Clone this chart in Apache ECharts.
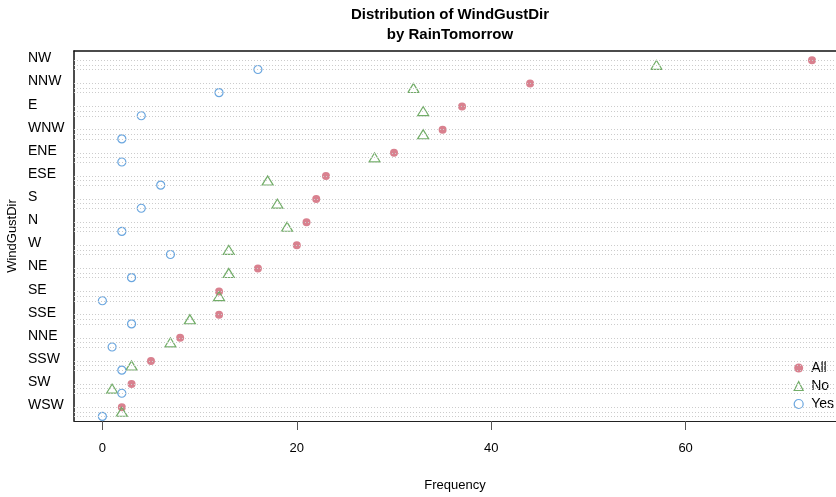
<!DOCTYPE html>
<html>
<head>
<meta charset="utf-8">
<script src="https://cdn.jsdelivr.net/npm/echarts@6/dist/echarts.min.js"></script>
<style>
html,body{margin:0;padding:0;background:#fff;}
#chart{width:836px;height:497px;}
</style>
</head>
<body>
<div id="chart"></div>
<script>
// Data
var groups = ['NW','NNW','E','WNW','ENE','ESE','S','N','W','NE','SE','SSE','NNE','SSW','SW','WSW'];
var allVals = [73,44,37,35,30,23,22,21,20,16,12,12,8,5,3,2];
var noVals  = [57,32,33,33,28,17,18,19,13,13,12,9,7,3,1,2];
var yesVals = [16,12,4,2,2,6,4,2,7,3,0,3,1,2,2,0];
var seriesNames = ['All','No','Yes'];
var xTicks = [0,20,40,60];

var n = groups.length;
// dotchart layout: each group takes 5 rows (label, All, No, Yes, gap)
function rowPos(i, offset){ return (n - 1 - i) * 5 + offset; }
var offsets = {All:3, No:2, Yes:1};
var labelOffset = 3.4;

function build(vals, name){
  return vals.map(function(v,i){ return [v, rowPos(i, offsets[name])]; });
}
var lineRows = [];
groups.forEach(function(g,i){
  seriesNames.forEach(function(s){ lineRows.push({yAxis: rowPos(i, offsets[s])}); });
});
var labelValues = groups.map(function(g,i){ return rowPos(i, labelOffset); });

var cAll = '#D9818F', cNo = '#72AD68', cYes = '#6AA6DF';
var font = 'Liberation Sans, Arial, Helvetica, sans-serif';

var chart = echarts.init(document.getElementById('chart'));
chart.setOption({
  animation: false,
  backgroundColor: '#fff',
  textStyle: {fontFamily: font},
  title: {
    text: 'Distribution of WindGustDir\nby RainTomorrow',
    left: 445, textAlign: 'center', top: 0,
    textStyle: {fontSize: 15, fontWeight: 'bold', color: '#000', lineHeight: 20, fontFamily: font}
  },
  legend: {
    orient: 'vertical', right: 2, top: 361, padding: 0,
    itemWidth: 9, itemHeight: 9, itemGap: 4,
    data: [
      {name:'All', icon:'circle', itemStyle:{color:cAll}},
      {name:'No', icon:'triangle', itemStyle:{color:'rgba(255,255,255,0)', borderColor:cNo, borderWidth:1.2}},
      {name:'Yes', icon:'circle', itemStyle:{color:'rgba(255,255,255,0)', borderColor:cYes, borderWidth:1.2}}
    ],
    textStyle: {fontSize: 14, color: '#000', fontFamily: font, lineHeight: 14, padding: [0,0,0,3]}
  },
  grid: {left: 74, right: 0, top: 51, bottom: 76, containLabel: false, outerBoundsMode: 'none'},
  xAxis: [{
    type: 'value', min: -2.92, max: 75.47,
    position: 'bottom',
    name: 'Frequency', nameLocation: 'middle', nameGap: 58, nameMoveOverlap: false,
    nameTextStyle: {fontSize: 13, color: '#000'},
    axisLine: {show: true, onZero: false, lineStyle: {color: '#222', width: 1}},
    axisTick: {show: true, length: 9, customValues: xTicks, lineStyle: {color: '#555'}},
    axisLabel: {show: true, customValues: xTicks, fontSize: 13, color: '#000', margin: 21},
    splitLine: {show: false}
  },{
    type: 'value', min: -2.92, max: 75.47, position: 'top',
    axisLine: {show: true, onZero: false, lineStyle: {color: '#111', width: 1.5}},
    axisTick: {show: false}, axisLabel: {show: false}, splitLine: {show: false}
  }],
  yAxis: {
    type: 'value', min: 0, max: 80,
    name: 'WindGustDir', nameLocation: 'middle', nameGap: 55, nameRotate: 90, nameMoveOverlap: false,
    nameTextStyle: {fontSize: 13, color: '#000'},
    axisLine: {show: true, onZero: false, lineStyle: {color: '#111', width: 1.5}},
    axisTick: {show: false},
    splitLine: {show: false},
    axisLabel: {
      show: true, align: 'left', margin: 46, fontSize: 14, color: '#000',
      customValues: labelValues,
      formatter: function(v){
        var k = Math.round((v - labelOffset) / 5);
        var i = n - 1 - k;
        return groups[i] || '';
      }
    }
  },
  series: [
    {
      name: 'rows', type: 'scatter', data: [], z: 1, silent: true,
      markLine: {
        silent: true, symbol: 'none', animation: false,
        label: {show: false},
        lineStyle: {color: '#cccccc', type: [1,2], width: 1},
        data: lineRows
      }
    },
    {
      name: 'All', type: 'scatter', z: 3, symbol: 'circle', symbolSize: 8,
      itemStyle: {color: cAll, opacity: 1},
      data: build(allVals, 'All')
    },
    {
      name: 'No', type: 'scatter', z: 3, symbol: 'triangle', symbolSize: [11, 9],
      itemStyle: {color: 'rgba(255,255,255,0)', borderColor: cNo, borderWidth: 1.2, opacity: 1},
      data: build(noVals, 'No')
    },
    {
      name: 'Yes', type: 'scatter', z: 3, symbol: 'circle', symbolSize: 8,
      itemStyle: {color: 'rgba(255,255,255,0)', borderColor: cYes, borderWidth: 1.2, opacity: 1},
      data: build(yesVals, 'Yes')
    }
  ]
});
</script>
</body>
</html>
